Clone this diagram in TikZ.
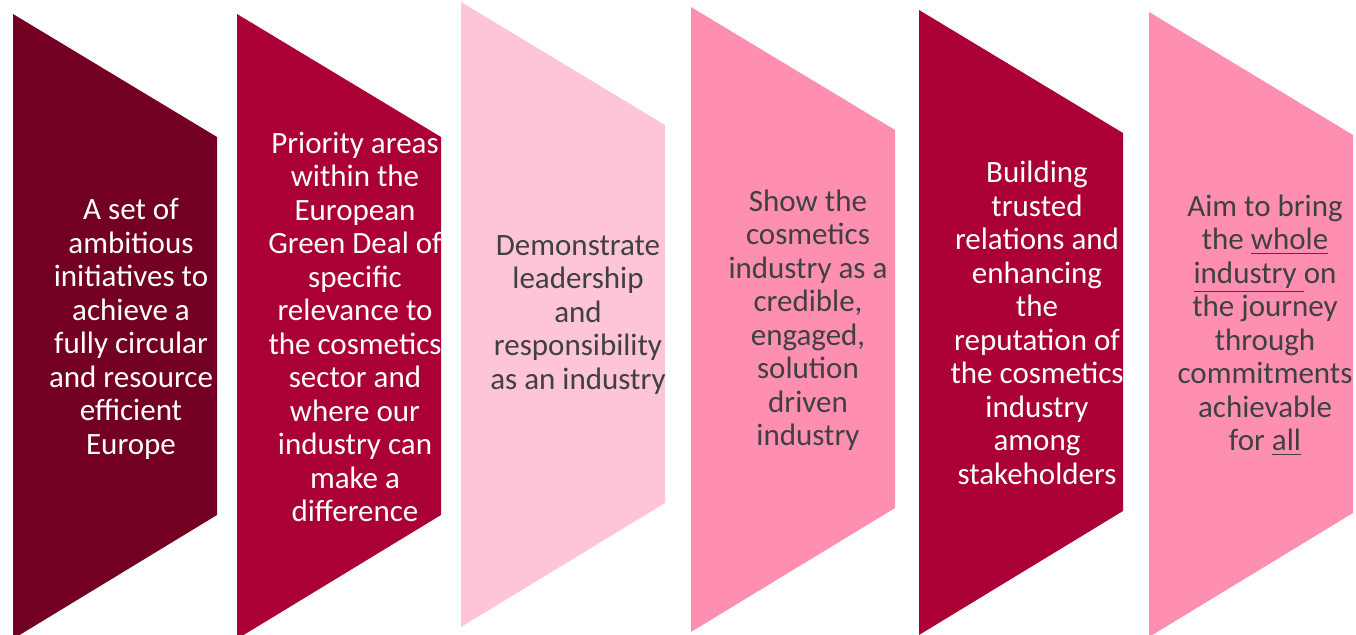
\documentclass[tikz,border=0pt]{standalone}
\usepackage{fontspec}
\setmainfont{Carlito}
\definecolor{maroon}{HTML}{730022}
\definecolor{crimson}{HTML}{AB0036}
\definecolor{blush}{HTML}{FEC4D8}
\definecolor{rosepink}{HTML}{FF8FB1}
\definecolor{inkgray}{HTML}{404040}
\begin{document}
\begin{tikzpicture}[x=0.5pt,y=-0.5pt,
  panel/.style={line width=0pt},
  paneltext/.style={align=center,inner sep=0pt,
    font=\fontsize{15.5}{16.75}\selectfont},
  darktext/.style={paneltext,text=white},
  lighttext/.style={paneltext,text=inkgray}]
\useasboundingbox[fill=white] (0,0) rectangle (1356,635);
% panels, 204 wide, right side 123 down from the top
\fill[panel,maroon] (13,14) -- ++(204,123) -- ++(0,378) -- ++(-204,124) -- cycle;
\fill[panel,crimson] (237,14) -- ++(204,123) -- ++(0,378) -- ++(-204,124) -- cycle;
\fill[panel,blush] (461,2) -- ++(204,123) -- ++(0,378) -- ++(-204,124) -- cycle;
\fill[panel,rosepink] (691,7) -- ++(204,123) -- ++(0,378) -- ++(-204,124) -- cycle;
\fill[panel,crimson] (919,10) -- ++(204,123) -- ++(0,378) -- ++(-204,124) -- cycle;
\fill[panel,rosepink] (1149,12) -- ++(204,123) -- ++(0,378) -- ++(-204,124) -- cycle;
% texts
\node[darktext] (europe) at (131,329) {A set of\\ambitious\\initiatives to\\achieve a\\fully circular\\and resource\\efficient\\Europe};
\node[darktext] (greendeal) at (355,327) {Priority areas\\within the\\European\\Green Deal of\\specific\\relevance to\\the cosmetics\\sector and\\where our\\industry can\\make a\\difference};
\node[lighttext] (leadership) at (578,315) {Demonstrate\\leadership\\and\\responsibility\\as an industry};
\node[lighttext] (credible) at (808,320) {Show the\\cosmetics\\industry as a\\credible,\\engaged,\\solution\\driven\\industry};
\node[darktext] (trust) at (1037,323) {Building\\trusted\\relations and\\enhancing\\the\\reputation of\\the cosmetics\\industry\\among\\stakeholders};
\node[lighttext] (journey) at (1265,325) {Aim to bring\\the \underline{whole}\\\underline{industry\ }on\\the journey\\through\\commitments\\achievable\\for \underline{all}};
\end{tikzpicture}
\end{document}
